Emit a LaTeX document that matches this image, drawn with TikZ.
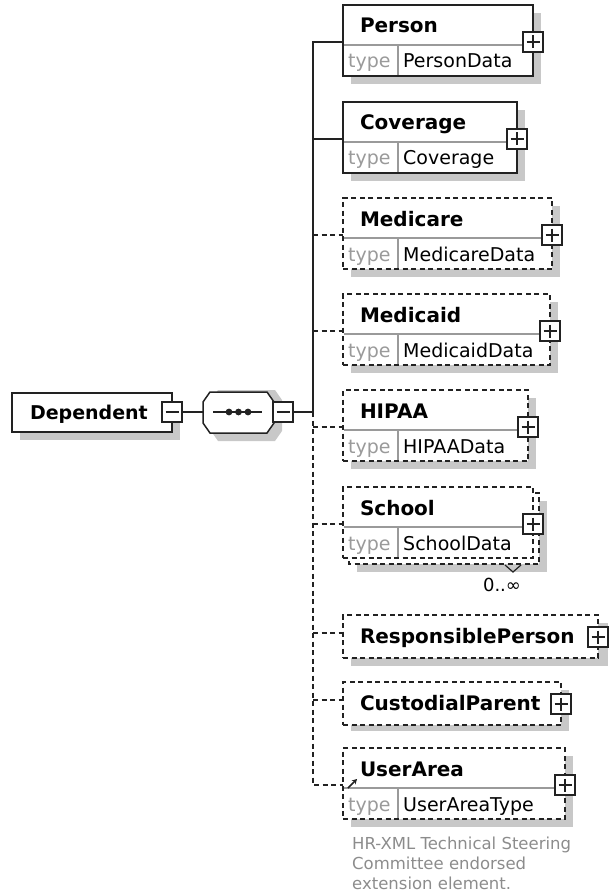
\documentclass[tikz,border=0pt]{standalone}
\usepackage{fontspec}
\setmainfont{DejaVu Sans}
\usetikzlibrary{arrows.meta,calc}
\definecolor{shadowc}{HTML}{C8C8C8}
\definecolor{edgec}{HTML}{222222}
\definecolor{divc}{HTML}{9A9A9A}
\definecolor{typec}{HTML}{9A9A9A}
\definecolor{notec}{HTML}{8C8C8C}
\tikzset{
  elbox/.style={draw=edgec, line width=1.5pt, fill=white, inner sep=0pt, outer sep=0pt, rectangle},
  optional/.style={dash pattern=on 5pt off 3.5pt},
  conn/.style={draw=edgec, line width=1.5pt},
  divline/.style={draw=divc, line width=1.2pt},
  nametext/.style={font=\bfseries\fontsize{20}{24}\selectfont, inner sep=0pt, outer sep=0pt},
  typelbl/.style={font=\fontsize{19}{22}\selectfont, text=typec, inner sep=0pt},
  typetext/.style={font=\fontsize{19}{22}\selectfont, text=black, inner sep=0pt},
  notetext/.style={font=\fontsize{16.5}{20}\selectfont, text=notec, inner sep=0pt, align=left},
  plusbox/.style={draw=edgec, fill=white, line width=1.3pt, minimum size=20pt, inner sep=0pt,
    path picture={
      \draw[line width=1.3pt] ([xshift=3.5pt]path picture bounding box.west) -- ([xshift=-3.5pt]path picture bounding box.east);
      \draw[line width=1.3pt] ([yshift=-3.5pt]path picture bounding box.north) -- ([yshift=3.5pt]path picture bounding box.south);}},
  minusbox/.style={draw=edgec, fill=white, line width=1.3pt, minimum size=20pt, inner sep=0pt,
    path picture={
      \draw[line width=1.3pt] ([xshift=3.5pt]path picture bounding box.west) -- ([xshift=-3.5pt]path picture bounding box.east);}}
}
% two-row element: #1 id, #2 L, #3 T, #4 R, #5 name, #6 type, #7 style
\newcommand{\ElemTwo}[7]{%
  \node[elbox,#7,anchor=north west,minimum width={(#4-#2)*1pt},minimum height=71pt] (#1) at (#2,#3) {};
  \draw[divline] (#2+0.8,#3+40) -- (#4-0.8,#3+40);
  \draw[divline] (#2+55,#3+40) -- (#2+55,#3+70.2);
  \node[nametext,anchor=base west] (#1-name) at (#2+17,#3+28) {#5};
  \node[typelbl,anchor=base west] (#1-tl) at (#2+5,#3+63) {type};
  \node[typetext,anchor=base west] (#1-type) at (#2+60,#3+63) {#6};
  \node[plusbox] (#1-plus) at (#4,#3+37) {};
  \coordinate (#1-in) at (#2,#3+37);
}
% one-row element: #1 id, #2 L, #3 T, #4 R, #5 name, #6 style
\newcommand{\ElemOne}[6]{%
  \node[elbox,#6,anchor=north west,minimum width={(#4-#2)*1pt},minimum height=43pt] (#1) at (#2,#3) {};
  \node[nametext,anchor=base west] (#1-name) at (#2+17,#3+28) {#5};
  \node[plusbox] (#1-plus) at (#4,#3+22) {};
  \coordinate (#1-in) at (#2,#3+18);
}
\begin{document}
\begin{tikzpicture}[x=1pt,y=-1pt]
\useasboundingbox (0,0) rectangle (612,896);
% shadows
\fill[shadowc] (351,13) rectangle (541,84);
\fill[shadowc] (351,110) rectangle (525,181);
\fill[shadowc] (351,206) rectangle (560,277);
\fill[shadowc] (351,302) rectangle (558,373);
\fill[shadowc] (351,398) rectangle (536,469);
\fill[shadowc] (357,501) rectangle (547,572);
\fill[shadowc] (351,623) rectangle (608,666);
\fill[shadowc] (351,690) rectangle (569,731);
\fill[shadowc] (351,756) rectangle (573,827);
\fill[shadowc] (20,401) rectangle (180,440);
\fill[shadowc] (211,400) -- (218,390) -- (275,390) -- (282,400) -- (282,431) -- (275,441) -- (218,441) -- (211,431) -- cycle;

% Dependent
\node[elbox,anchor=north west,minimum width=160pt,minimum height=39pt] (dep) at (12,393) {};
\node[nametext,font=\bfseries\fontsize{19}{22}\selectfont,anchor=base west] (depname) at (30,419) {Dependent};
\node[minusbox] (depm) at (172,412) {};

% sequence compositor
\node[inner sep=0pt,outer sep=0pt,minimum width=71pt,minimum height=41pt] (seq) at (238.5,412) {};
\draw[draw=edgec,line width=1.5pt,fill=white] (203,402) -- (210,392) -- (267,392) -- (274,402) -- (274,423) -- (267,433) -- (210,433) -- (203,423) -- cycle;
\draw[edgec,line width=1.5pt] (213,412) -- (262,412);
\fill[edgec] (229,412) circle (3.4pt) (238.5,412) circle (3.4pt) (248,412) circle (3.4pt);
\node[minusbox] (seqm) at (283,412) {};

% elements
\ElemTwo{person}{343}{5}{533}{Person}{PersonData}{}
\ElemTwo{coverage}{343}{102}{517}{Coverage}{Coverage}{}
\ElemTwo{medicare}{343}{198}{552}{Medicare}{MedicareData}{optional}
\ElemTwo{medicaid}{343}{294}{550}{Medicaid}{MedicaidData}{optional}
\ElemTwo{hipaa}{343}{390}{528}{HIPAA}{HIPAAData}{optional}
% School (repeating): back box first
\draw[elbox,optional] (349,493) rectangle (539,564);
\ElemTwo{school}{343}{487}{533}{School}{SchoolData}{optional}
\draw[edgec,line width=1.2pt] (505,565) -- (513,572) -- (521,565);
\node[font=\fontsize{18}{20}\selectfont,anchor=base,inner sep=0pt] (schoolocc) at (502,591) {0..∞};
\ElemOne{respperson}{343}{615}{598}{ResponsiblePerson}{optional}
\ElemOne{custparent}{343}{682}{561}{CustodialParent}{optional}
\ElemTwo{userarea}{343}{748}{565}{UserArea}{UserAreaType}{optional}
\draw[edgec,line width=1.6pt,-{Stealth[length=5pt,width=5.5pt]}] ($(userarea-in)+(5,3)$) -- ++(9,-9);
\node[notetext,anchor=north west] (note) at (352,837) {HR-XML Technical Steering\\Committee endorsed\\extension element.};

% connectors
\coordinate (J) at (313,412);
\draw[conn] (depm.east) -- (seq.west);
\draw[conn] (seqm.east) -- (J);
\draw[conn] (J) -- (person-in -| J) -- (person-in);
\draw[conn] (coverage-in -| J) -- (coverage-in);
\draw[conn,optional] (J) -- (userarea-in -| J) -- (userarea-in);
\draw[conn,optional] (medicare-in -| J) -- (medicare-in);
\draw[conn,optional] (medicaid-in -| J) -- (medicaid-in);
\draw[conn,optional] (hipaa-in -| J) -- (hipaa-in);
\draw[conn,optional] (school-in -| J) -- (school-in);
\draw[conn,optional] (respperson-in -| J) -- (respperson-in);
\draw[conn,optional] (custparent-in -| J) -- (custparent-in);
\end{tikzpicture}
\end{document}
